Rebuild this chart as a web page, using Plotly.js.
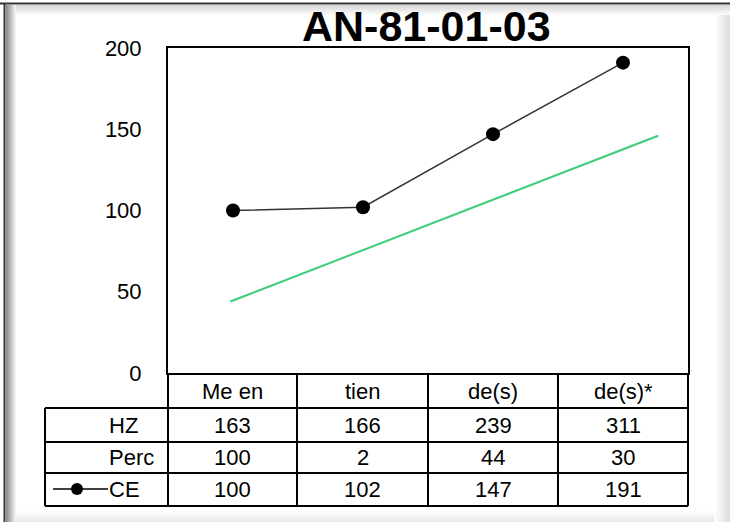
<!DOCTYPE html>
<html>
<head>
<meta charset="utf-8">
<script src="https://cdn.plot.ly/plotly-3.0.1.min.js"></script>
<style>
html,body{margin:0;padding:0;background:#fff;}
#chart{width:730px;height:522px;}
</style>
</head>
<body>
<div id="chart"></div>
<script>
// ---- data ----
const chartTitle = 'AN-81-01-03';
const categories = ['Me en', 'tien', 'de(s)', 'de(s)*'];
const rowLabels = ['HZ', 'Perc', 'CE'];
const hzValues = [163, 166, 239, 311];
const percValues = [100, 2, 44, 30];
const ceValues = [100, 102, 147, 191];
const trendX = [-0.02, 3.27];
const trendY = [44, 146];
const yTicks = [0, 50, 100, 150, 200];

// ---- layout helpers (pixel -> paper) ----
const W = 730, H = 522;
const L = 168, R = 688, T = 48, B = 373;
const px = v => (v - L) / (R - L);
const py = v => (B - v) / (B - T);
const FONT = '"Liberation Sans", Arial, sans-serif';

const shapes = [];
const annotations = [];

function rect(x0, y0, x1, y1, color) {
  shapes.push({type: 'rect', xref: 'paper', yref: 'paper', x0: px(x0), x1: px(x1), y0: py(y0), y1: py(y1),
    fillcolor: color, line: {width: 0}, layer: 'below'});
}
function line(x0, y0, x1, y1, color, w) {
  shapes.push({type: 'line', xref: 'paper', yref: 'paper', x0: px(x0), x1: px(x1), y0: py(y0), y1: py(y1),
    line: {color: color, width: w}});
}
function gray(t) { const g = Math.round(t); return 'rgb(' + g + ',' + g + ',' + g + ')'; }

// frame gradients
for (let i = 0; i < 10; i++) rect(6 + i, 5, 7 + i, H, gray(140 + i * 11.5));
for (let i = 0; i < 10; i++) rect(16, 5 + i, W, 6 + i, gray(215 + i * 4));
for (let i = 0; i < 16; i++) rect(714 + i, 15, 715 + i, H, gray(255 - i * 2.3));
for (let i = 0; i < 12; i++) rect(16, 510 + i, 714, 511 + i, gray(255 - i * 2));
line(0, 3.5, W, 3.5, '#333', 2);
line(4.5, 3, 4.5, H, '#333', 2);

// table grid
const colX = [L, 297, 428, 558, R];
const rowY = [B, 408, 442, 473, 506];
const tableLeft = 45;
for (let i = 0; i < colX.length; i++) line(colX[i], B, colX[i], rowY[4], '#000', 2);
line(tableLeft, rowY[1], tableLeft, rowY[4], '#000', 2);
for (let j = 1; j < rowY.length; j++) line(tableLeft, rowY[j], R, rowY[j], '#000', 2);

// table text
const txtFont = {family: FONT, size: 22, color: '#000'};
function text(x, y, s, xanchor) {
  annotations.push({xref: 'paper', yref: 'paper', x: px(x), y: py(y), text: s, showarrow: false,
    xanchor: xanchor || 'center', yanchor: 'middle', font: txtFont});
}
const rowCenters = [391, 425, 457, 489];
const rows = [hzValues, percValues, ceValues];
categories.forEach((c, i) => text((colX[i] + colX[i + 1]) / 2, rowCenters[0], c));
rows.forEach((vals, r) => vals.forEach((v, i) => text((colX[i] + colX[i + 1]) / 2, rowCenters[r + 1], String(v))));
rowLabels.forEach((lab, r) => text(107, rowCenters[r + 1], lab, 'left'));

// CE legend key
line(53, 489, 108, 489, '#000', 1.5);
shapes.push({type: 'circle', xref: 'paper', yref: 'paper', x0: px(71), x1: px(83), y0: py(483), y1: py(495),
  fillcolor: '#000', line: {color: '#000', width: 0}});

// title
annotations.push({xref: 'paper', yref: 'paper', x: px(426), y: py(25.5), text: '<b>' + chartTitle + '</b>',
  showarrow: false, xanchor: 'center', yanchor: 'middle', font: {family: FONT, size: 43, color: '#000'}});

const traces = [
  {x: trendX, y: trendY, type: 'scatter', mode: 'lines', line: {color: '#3dcc7a', width: 2},
    hoverinfo: 'skip', showlegend: false},
  {x: categories.map((c, i) => i), y: ceValues, type: 'scatter', mode: 'lines+markers', name: 'CE',
    line: {color: '#333', width: 1.5}, marker: {color: '#000', size: 14}, showlegend: false}
];

const layout = {
  width: W, height: H,
  margin: {l: L, r: W - R, t: T, b: H - B, pad: 0},
  paper_bgcolor: '#fff', plot_bgcolor: '#fff',
  showlegend: false,
  xaxis: {range: [-0.5, 3.5], showticklabels: false, showgrid: false, zeroline: false,
    showline: true, mirror: true, linecolor: '#000', linewidth: 2, ticks: ''},
  yaxis: {range: [0, 200], tickvals: yTicks, ticktext: yTicks.map(String), showgrid: false, zeroline: false,
    showline: true, mirror: true, linecolor: '#000', linewidth: 2,
    ticks: 'outside', ticklen: 20, tickcolor: 'rgba(0,0,0,0)',
    tickfont: {family: FONT, size: 22, color: '#000'}},
  shapes: shapes,
  annotations: annotations
};

Plotly.newPlot('chart', traces, layout, {displayModeBar: false, staticPlot: true});
</script>
</body>
</html>
